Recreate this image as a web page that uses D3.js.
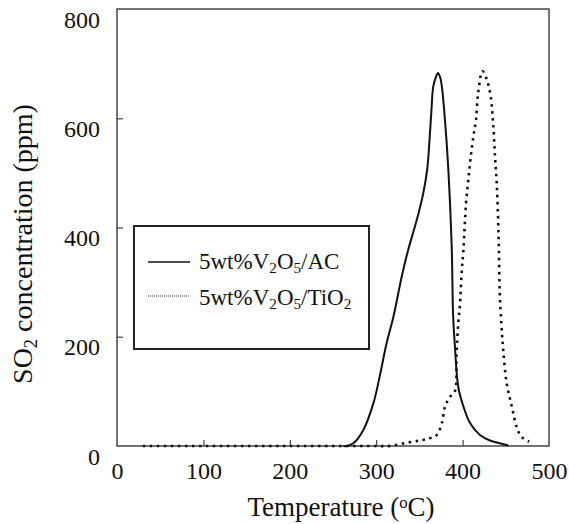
<!DOCTYPE html>
<html>
<head>
<meta charset="utf-8">
<script src="https://cdn.jsdelivr.net/npm/d3@7"></script>
<style>
  html, body { margin: 0; padding: 0; background: #fff; }
  svg { display: block; }
  text { font-family: "Liberation Serif", "Times New Roman", serif; fill: #111; }
</style>
</head>
<body>
<svg id="chart" width="569" height="524"></svg>
<script>
// ---- data ----
const tempAC = [262, 266, 273.5, 285, 296.7, 304, 312, 320, 329.5, 337, 347, 354.5, 359, 362, 364, 366, 369, 371.5, 374, 376, 379.6, 383.5, 387.4, 389, 391, 395, 401, 408.6, 420, 431.7, 443, 453];
const concAC = [0, 0, 5, 29, 78, 127, 188, 237, 310, 359, 414, 463, 506, 567, 616, 658, 675, 683, 675, 658, 597, 506, 365, 240, 185, 108, 72, 42, 20, 10, 5, 1];

const tempTi = [30, 100, 200, 300, 316, 335, 350.7, 362, 370, 376, 379.6, 385.4, 391, 393, 395, 397, 399, 401, 404, 406.6, 409, 412.5, 415.5, 418, 423, 428, 432.5, 435.6, 437.5, 439.5, 441, 442, 443, 445, 447, 451, 457, 462.6, 468, 477];
const concTi = [0, 0, 0, 0, 0, 6, 10, 14, 20, 42, 72, 90, 100, 170, 225, 260, 320, 360, 445, 487, 524, 567, 597, 646, 686, 671, 640, 585, 530, 481, 420, 360, 280, 220, 176, 115, 72, 35, 17, 8];

const xTicks = [0, 100, 200, 300, 400, 500];
const yTicks = [0, 200, 400, 600, 800];
const seriesNames = ["5wt%V2O5/AC", "5wt%V2O5/TiO2"];

// ---- layout ----
const svg = d3.select("#chart");
const L = 117, R = 549, T = 9, B = 446;
const x = d3.scaleLinear().domain([0, 500]).range([L, R]);
const y = d3.scaleLinear().domain([0, 800]).range([B, T]);

// frame
svg.append("rect").attr("x", L).attr("y", T).attr("width", R - L).attr("height", B - T)
  .attr("fill", "none").attr("stroke", "#444").attr("stroke-width", 1.5);

// x axis (ticks inward)
const xAxis = d3.axisBottom(x).tickValues(xTicks).tickSize(-6).tickPadding(0).tickFormat(d3.format("d"));
const gx = svg.append("g").attr("transform", `translate(0,${B})`).call(xAxis);
gx.select(".domain").remove();
gx.selectAll(".tick line").attr("stroke", "#444").attr("stroke-width", 1.2)
  .filter(d => d === 0 || d === 500).remove();
gx.selectAll(".tick text").attr("font-size", 24).attr("dy", 0).attr("y", 33)
  .attr("font-family", "'Liberation Serif', serif").attr("fill", "#111");

// y axis
const yAxis = d3.axisLeft(y).tickValues(yTicks).tickSize(-6).tickPadding(0).tickFormat(d3.format("d"));
const gy = svg.append("g").attr("transform", `translate(${L},0)`).call(yAxis);
gy.select(".domain").remove();
gy.selectAll(".tick line").attr("stroke", "#444").attr("stroke-width", 1.2)
  .filter(d => d === 0 || d === 800).remove();
gy.selectAll(".tick text").attr("font-size", 24).attr("x", -17).attr("dy", 0).attr("y", 18)
  .attr("font-family", "'Liberation Serif', serif").attr("fill", "#111");

// lines
const line = d3.line().x(d => x(d[0])).y(d => y(d[1])).curve(d3.curveCatmullRom.alpha(0.5));

svg.append("path").datum(d3.zip(tempTi, concTi))
  .attr("d", line).attr("fill", "none").attr("stroke", "#111")
  .attr("stroke-width", 2.6).attr("stroke-dasharray", "2.5,4.5");

svg.append("path").datum(d3.zip(tempAC, concAC))
  .attr("d", line).attr("fill", "none").attr("stroke", "#111")
  .attr("stroke-width", 2);

// legend
const lg = svg.append("g");
lg.append("rect").attr("x", 134).attr("y", 226).attr("width", 235).attr("height", 123)
  .attr("fill", "#fff").attr("stroke", "#222").attr("stroke-width", 2);
lg.append("line").attr("x1", 148).attr("x2", 190).attr("y1", 262).attr("y2", 262)
  .attr("stroke", "#111").attr("stroke-width", 1.6);
lg.append("line").attr("x1", 148).attr("x2", 190).attr("y1", 296).attr("y2", 296)
  .attr("stroke", "#333").attr("stroke-width", 1.2).attr("stroke-dasharray", "1,1");

function chem(sel, parts) {
  // parts: [text, type] type: "n" normal, "sub", "sup"
  parts.forEach(([t, k]) => {
    const ts = sel.append("tspan").text(t);
    if (k === "sub") ts.attr("font-size", "66%").attr("baseline-shift", "-28%");
    if (k === "sup") ts.attr("font-size", "62%").attr("baseline-shift", "45%");
  });
}
const lt1 = lg.append("text").attr("x", 199).attr("y", 269).attr("font-size", 23);
chem(lt1, [["5wt%V", "n"], ["2", "sub"], ["O", "n"], ["5", "sub"], ["/AC", "n"]]);
const lt2 = lg.append("text").attr("x", 199).attr("y", 305).attr("font-size", 23);
chem(lt2, [["5wt%V", "n"], ["2", "sub"], ["O", "n"], ["5", "sub"], ["/TiO", "n"], ["2", "sub"]]);

// axis titles
const xt = svg.append("text").attr("x", 341).attr("y", 516).attr("text-anchor", "middle").attr("font-size", 27);
chem(xt, [["Temperature (", "n"], ["o", "sup"], ["C)", "n"]]);

const yt = svg.append("text").attr("transform", "translate(32,244) rotate(-90)")
  .attr("text-anchor", "middle").attr("font-size", 28);
chem(yt, [["SO", "n"], ["2", "sub"], [" concentration (ppm)", "n"]]);
</script>
</body>
</html>
